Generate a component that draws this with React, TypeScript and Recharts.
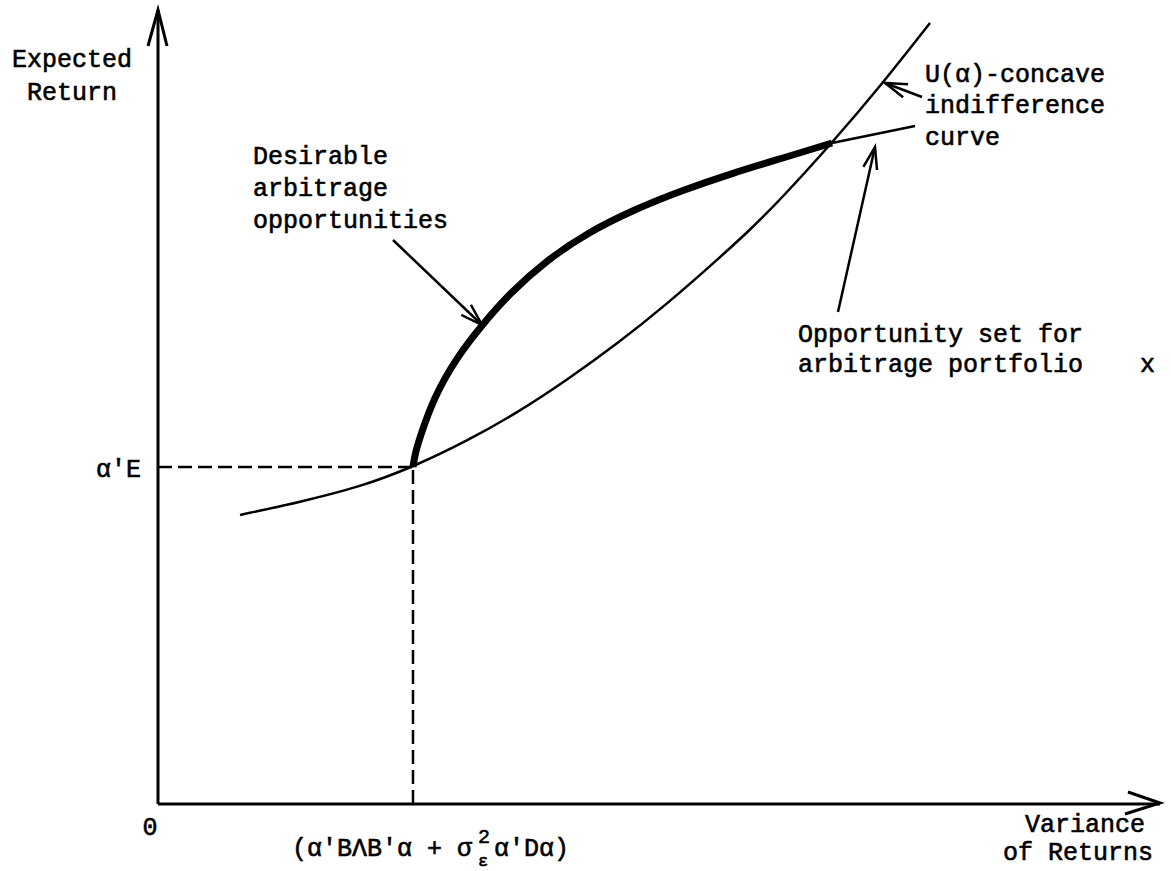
import React from "react";
import { ComposedChart, Line, XAxis, YAxis } from "recharts";

type P = { x: number; y: number };

// Coordinates: x = variance of returns, y = expected return (origin at the axes' corner)
const indifferenceCurve: P[] = [
  { x: 82, y: 289 }, { x: 142, y: 302 }, { x: 202, y: 317 }, { x: 255, y: 337 },
  { x: 309, y: 363 }, { x: 359, y: 391 }, { x: 409, y: 424 }, { x: 459, y: 460 },
  { x: 509, y: 500 }, { x: 559, y: 544 }, { x: 592, y: 574 }, { x: 622, y: 604 },
  { x: 674, y: 661 }, { x: 725, y: 721 }, { x: 772, y: 781 },
];

const desirableSet: P[] = [
  { x: 255, y: 337 }, { x: 257, y: 350 }, { x: 262, y: 367 }, { x: 276, y: 407 },
  { x: 299, y: 447 }, { x: 324, y: 479 }, { x: 352, y: 511 }, { x: 389, y: 544 },
  { x: 429, y: 571 }, { x: 475, y: 594 }, { x: 525, y: 614 }, { x: 575, y: 631 },
  { x: 625, y: 646 }, { x: 674, y: 661 },
];

const opportunityTail: P[] = [
  { x: 674, y: 661 }, { x: 757, y: 678 },
];

const tangentPoint: P = { x: 255, y: 337 };

const yAxisLine: P[] = [{ x: 0, y: 0 }, { x: 0, y: 794 }];
const yAxisHead: P[] = [{ x: -10, y: 758 }, { x: 0, y: 794 }, { x: 9, y: 758 }];
const xAxisLine: P[] = [{ x: 0, y: 0 }, { x: 1002, y: 0 }];
const xAxisHead: P[] = [{ x: 970, y: 12 }, { x: 1002, y: 1 }, { x: 967, y: -10 }];

const annotationArrows: { tail: P; tip: P }[] = [
  { tail: { x: 235, y: 564 }, tip: { x: 324, y: 479 } },
  { tail: { x: 764, y: 707 }, tip: { x: 727, y: 721 } },
  { tail: { x: 680, y: 492 }, tip: { x: 717, y: 657 } },
];

const xDomain: [number, number] = [-158, 1013];
const yDomain: [number, number] = [-67, 804];

function head(tail: P, tip: P, len = 22, half = 7): P[] {
  const dx = tip.x - tail.x;
  const dy = tip.y - tail.y;
  const m = Math.hypot(dx, dy);
  const ux = dx / m, uy = dy / m;
  const nx = -uy, ny = ux;
  return [
    { x: tip.x - len * ux + half * nx, y: tip.y - len * uy + half * ny },
    { x: tip.x, y: tip.y },
    { x: tip.x - len * ux - half * nx, y: tip.y - len * uy - half * ny },
  ];
}

const font = "'Liberation Mono', 'DejaVu Sans Mono', monospace";

function Txt(props: { x: number; y: number; children: React.ReactNode; anchor?: string; size?: number }) {
  return (
    <text
      x={props.x}
      y={props.y}
      textAnchor={(props.anchor as any) || "start"}
      fontFamily={font}
      fontSize={props.size || 25}
      fill="#000"
      stroke="#000"
      strokeWidth={0.6}
    >
      {props.children}
    </text>
  );
}

export default function App() {
  const lineProps = {
    dataKey: "y",
    stroke: "#000",
    dot: false,
    activeDot: false,
    isAnimationActive: false,
    legendType: "none" as const,
  };
  return (
    <div style={{ position: "absolute", left: 0, top: 0, width: 1171, height: 871, background: "#fff" }}>
      <ComposedChart width={1171} height={871} margin={{ top: 0, right: 0, bottom: 0, left: 0 }}>
        <XAxis type="number" dataKey="x" domain={xDomain} hide allowDataOverflow />
        <YAxis type="number" dataKey="y" domain={yDomain} hide allowDataOverflow />
        {/* axes */}
        <Line {...lineProps} data={yAxisLine} type="linear" strokeWidth={3} />
        <Line {...lineProps} data={yAxisHead} type="linear" strokeWidth={3} />
        <Line {...lineProps} data={xAxisLine} type="linear" strokeWidth={3} />
        <Line {...lineProps} data={xAxisHead} type="linear" strokeWidth={3} />
        {/* dashed guides */}
        <Line {...lineProps} data={[{ x: 0, y: tangentPoint.y }, tangentPoint]} type="linear" strokeWidth={2.5} strokeDasharray="14 6" />
        <Line {...lineProps} data={[{ x: tangentPoint.x, y: 0 }, tangentPoint]} type="linear" strokeWidth={2.5} strokeDasharray="14 6" />
        {/* curves */}
        <Line {...lineProps} data={indifferenceCurve} type="basis" strokeWidth={2.5} />
        <Line {...lineProps} data={desirableSet} type="basis" strokeWidth={7} />
        <Line {...lineProps} data={opportunityTail} type="linear" strokeWidth={2.5} />
        {/* annotation arrows */}
        {annotationArrows.map((a, i) => (
          <Line key={"s" + i} {...lineProps} data={[a.tail, a.tip]} type="linear" strokeWidth={2.5} />
        ))}
        {annotationArrows.map((a, i) => (
          <Line key={"h" + i} {...lineProps} data={head(a.tail, a.tip)} type="linear" strokeWidth={2.5} />
        ))}
      </ComposedChart>
      <svg width={1171} height={871} style={{ position: "absolute", left: 0, top: 0, pointerEvents: "none" }}>
        <Txt x={72} y={67} anchor="middle">Expected</Txt>
        <Txt x={72} y={100} anchor="middle">Return</Txt>
        <Txt x={141} y={477} anchor="end">α'E</Txt>
        <Txt x={253} y={164}>Desirable</Txt>
        <Txt x={253} y={196}>arbitrage</Txt>
        <Txt x={253} y={228}>opportunities</Txt>
        <Txt x={925} y={82}>U(α)-concave</Txt>
        <Txt x={925} y={113}>indifference</Txt>
        <Txt x={925} y={145}>curve</Txt>
        <Txt x={798} y={342}>Opportunity set for</Txt>
        <Txt x={798} y={372}>arbitrage portfolio</Txt>
        <Txt x={1140} y={372}>x</Txt>
        <Txt x={150} y={835} anchor="middle">0</Txt>
        <Txt x={292} y={856}>(α'BΛB'α + σ</Txt>
        <Txt x={478} y={843} size={20}>2</Txt>
        <Txt x={478} y={866} size={17}>ε</Txt>
        <Txt x={494} y={856}>α'Dα)</Txt>
        <Txt x={1025} y={832}>Variance</Txt>
        <Txt x={1003} y={860}>of Returns</Txt>
      </svg>
    </div>
  );
}
